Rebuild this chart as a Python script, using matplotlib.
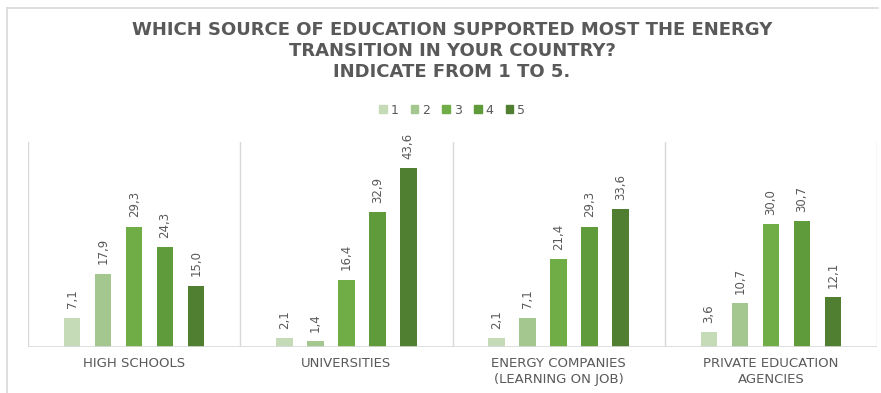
import numpy as np
import matplotlib
matplotlib.use("Agg")
import matplotlib.pyplot as plt
from matplotlib.patches import Patch

# survey answers (percent), one list per score
categories = ["HIGH SCHOOLS", "UNIVERSITIES", "ENERGY COMPANIES\n(LEARNING ON JOB)",
              "PRIVATE EDUCATION\nAGENCIES"]
scores = ["1", "2", "3", "4", "5"]
score_1 = [7.1, 2.1, 2.1, 3.6]
score_2 = [17.9, 1.4, 7.1, 10.7]
score_3 = [29.3, 16.4, 21.4, 30.0]
score_4 = [24.3, 32.9, 29.3, 30.7]
score_5 = [15.0, 43.6, 33.6, 12.1]
series = [score_1, score_2, score_3, score_4, score_5]
title_lines = ["WHICH SOURCE OF EDUCATION SUPPORTED MOST THE ENERGY",
               "TRANSITION IN YOUR COUNTRY?",
               "INDICATE FROM 1 TO 5."]

colors = ["#c5dab7", "#a4c68f", "#70ad47", "#5f9a3b", "#507f32"]
text_gray = "#595959"
grid_gray = "#d9d9d9"

W, H = 881, 393
fig = plt.figure(figsize=(W / 100, H / 100), dpi=100)
fig.patch.set_facecolor("white")

# chart frame: left and top edges only
fig.add_artist(plt.Line2D([7 / W, 7 / W], [0, 1 - 8 / H], color=grid_gray, lw=1.2))
fig.add_artist(plt.Line2D([7 / W, 0.997], [1 - 8 / H, 1 - 8 / H], color=grid_gray, lw=1.2))

ax = fig.add_axes([28 / W, 46 / H, 849 / W, 205 / H])
x = np.arange(len(categories))
step = 0.146
width = 0.077
for i, vals in enumerate(series):
    pos = x + (i - 2) * step
    ax.bar(pos, vals, width=width, color=colors[i], zorder=3)
    for px, v in zip(pos, vals):
        ax.text(px, v + 2.3, f"{v:.1f}".replace(".", ","), rotation=90,
                ha="center", va="bottom", fontsize=8.5, color=text_gray)

ax.set_xlim(-0.5, len(categories) - 0.5)
ax.set_ylim(0, 50)
for s in ax.spines.values():
    s.set_visible(False)
ax.set_yticks([])
ax.set_xticks([])
for b in np.arange(len(categories) + 1) - 0.5:
    ax.axvline(b, color=grid_gray, lw=1, zorder=1)
ax.axhline(0, color=grid_gray, lw=1.2, zorder=4)

for xi, name in zip(x, categories):
    ax.text(xi, -2.4, name, ha="center", va="top", fontsize=9.5, color=text_gray,
            linespacing=1.35)

for yy, line in zip([30, 51, 72], title_lines):
    fig.text(452 / W, 1 - yy / H, line, ha="center", va="center", fontsize=13,
             fontweight="bold", color=text_gray)

handles = [Patch(color=c) for c in colors]
fig.legend(handles, scores, loc="center", bbox_to_anchor=(452 / W, 1 - 110 / H),
           ncol=5, frameon=False, fontsize=9, handlelength=0.6, handleheight=0.6,
           handletextpad=0.3, columnspacing=1.0, labelcolor=text_gray)

fig.savefig("out.png", dpi=100, facecolor="white")
